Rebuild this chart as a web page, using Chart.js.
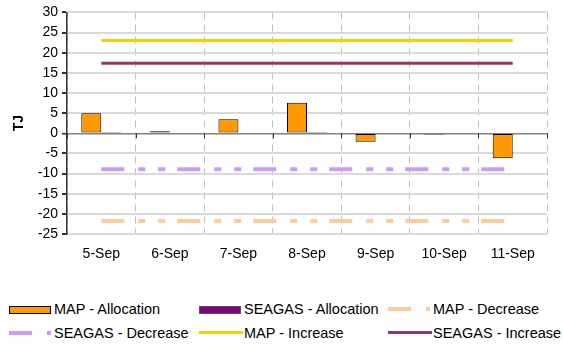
<!DOCTYPE html>
<html>
<head>
<meta charset="utf-8">
<script src="https://cdn.jsdelivr.net/npm/chart.js@4.4.1/dist/chart.umd.min.js"></script>
<style>
    body { margin: 0; background: #fff; font-family: Arial, 'Liberation Sans', sans-serif; }
    #wrap { position: relative; width: 563px; height: 345px; }
    #chartBox { position: absolute; left: 0; top: 0; width: 563px; height: 270px; }
    .legend-item { position: absolute; height: 16px; font-size: 14.5px; color: #000; white-space: nowrap; }
    .legend-item .sample { position: absolute; left: 0; top: 0; width: 42px; height: 16px; }
    .legend-item .label { position: absolute; left: 45px; top: 0; line-height: 16px; }
</style>
</head>
<body>
<div id="wrap">
    <div id="chartBox"><canvas id="chart"></canvas></div>
    <div id="legend"></div>
</div>
<script>
const days = ['5-Sep', '6-Sep', '7-Sep', '8-Sep', '9-Sep', '10-Sep', '11-Sep'];
const mapAllocation = [5, 0.5, 3.5, 7.6, -2.1, -0.3, -6.2];
const seagasAllocation = [0.3, 0, 0, 0.3, 0, 0, 0];
const mapDecrease = [-21.8, -21.8, -21.8, -21.8, -21.8, -21.8, -21.8];
const seagasDecrease = [-8.9, -8.9, -8.9, -8.9, -8.9, -8.9, -8.9];
const mapIncrease = [23, 23, 23, 23, 23, 23, 23];
const seagasIncrease = [17.4, 17.4, 17.4, 17.4, 17.4, 17.4, 17.4];
const yTicks = [30, 25, 20, 15, 10, 5, 0, -5, -10, -15, -20, -25];

const FONT = "Arial, 'Liberation Sans', sans-serif";
const DASH = [23, 14, 7, 13, 7, 12];

// little tick marks where the category boundaries cross the zero line
const zeroTicks = {
    id: 'zeroTicks',
    afterDatasetsDraw(chart) {
        const { ctx, chartArea, scales } = chart;
        const y0 = scales.y.getPixelForValue(0);
        const step = (chartArea.right - chartArea.left) / days.length;
        ctx.save();
        ctx.strokeStyle = '#333';
        ctx.lineWidth = 1;
        for (let i = 0; i <= days.length; i++) {
            const x = Math.round(chartArea.left + i * step) + 0.5;
            ctx.beginPath();
            ctx.moveTo(x, y0);
            ctx.lineTo(x, y0 + 5);
            ctx.stroke();
        }
        ctx.restore();
    }
};

const chart = new Chart('chart', {
    type: 'bar',
    data: {
        labels: days,
        datasets: [
            { label: 'MAP - Allocation', data: mapAllocation, backgroundColor: '#FF9900', borderColor: '#000', borderWidth: 1, borderSkipped: false, order: 2 },
            { label: 'SEAGAS - Allocation', data: seagasAllocation, backgroundColor: '#800080', borderColor: '#222', borderWidth: 1, borderSkipped: false, order: 2 },
            { type: 'line', label: 'MAP - Decrease', data: mapDecrease, borderColor: '#FFCC99', borderWidth: 4, borderDash: DASH, pointRadius: 0, fill: false, order: 1 },
            { type: 'line', label: 'SEAGAS - Decrease', data: seagasDecrease, borderColor: '#CC99FF', borderWidth: 4, borderDash: DASH, pointRadius: 0, fill: false, order: 1 },
            { type: 'line', label: 'MAP - Increase', data: mapIncrease, borderColor: '#FFCC00', borderWidth: 3, pointRadius: 0, fill: false, order: 1 },
            { type: 'line', label: 'SEAGAS - Increase', data: seagasIncrease, borderColor: '#993366', borderWidth: 3, pointRadius: 0, fill: false, order: 1 }
        ]
    },
    options: {
        responsive: true,
        maintainAspectRatio: false,
        animation: false,
        categoryPercentage: 0.583,
        barPercentage: 1,
        layout: { padding: { top: 6, right: 16, left: 7, bottom: 0 } },
        plugins: {
            legend: { display: false },
            tooltip: { enabled: false }
        },
        scales: {
            x: {
                grid: { color: '#c0c0c0', lineWidth: 1, drawTicks: false, offset: true },
                border: { display: false, dash: [7, 5] },
                ticks: { color: '#000', padding: 12, font: { family: FONT, size: 14 } },
                afterFit: (s) => { s.height = 36; }
            },
            y: {
                min: -25,
                max: 30,
                afterBuildTicks: (s) => { s.ticks = yTicks.map(v => ({ value: v })); },
                grid: {
                    color: (c) => c.tick && c.tick.value === 0 ? '#808080' : '#d9d9d9',
                    lineWidth: (c) => c.tick && c.tick.value === 0 ? 1.5 : 2,
                    tickColor: '#333',
                    tickLength: 5
                },
                border: { color: '#333', width: 1.5 },
                ticks: { color: '#000', padding: 4, font: { family: FONT, size: 14 } },
                title: { display: true, text: 'TJ', color: '#000', padding: { top: 4, bottom: 0 }, font: { family: FONT, size: 14, weight: 'bold' } },
                afterFit: (s) => { s.width = 60; }
            }
        }
    },
    plugins: [zeroTicks]
});

// legend laid out in a fixed 3x2 grid like the original
const legendItems = [
    { text: 'MAP - Allocation', kind: 'box', color: '#FF9900', border: '#000', x: 9, y: 301 },
    { text: 'SEAGAS - Allocation', kind: 'box', color: '#800080', border: '#555', x: 199, y: 301 },
    { text: 'MAP - Decrease', kind: 'dash', color: '#FFCC99', x: 388, y: 301 },
    { text: 'SEAGAS - Decrease', kind: 'dash', color: '#CC99FF', x: 9, y: 325 },
    { text: 'MAP - Increase', kind: 'line', color: '#FFCC00', x: 199, y: 325 },
    { text: 'SEAGAS - Increase', kind: 'line', color: '#993366', x: 388, y: 325 }
];

function sampleHTML(item) {
    if (item.kind === 'box') {
        return `<div style="position:absolute;left:0;top:5px;width:40px;height:6px;background:${item.color};border:1px solid ${item.border};"></div>`;
    }
    if (item.kind === 'dash') {
        return `<div style="position:absolute;left:0;top:6px;width:23px;height:4px;background:${item.color};"></div>` +
               `<div style="position:absolute;left:38px;top:6px;width:4px;height:4px;background:${item.color};"></div>`;
    }
    return `<div style="position:absolute;left:0;top:6px;width:44px;height:3px;background:${item.color};"></div>`;
}

const legendEl = document.getElementById('legend');
legendEl.innerHTML = legendItems.map(item => `
    <div class="legend-item" style="left:${item.x}px;top:${item.y}px;">
        <div class="sample">${sampleHTML(item)}</div>
        <span class="label">${item.text}</span>
    </div>`).join('');
</script>
</body>
</html>
